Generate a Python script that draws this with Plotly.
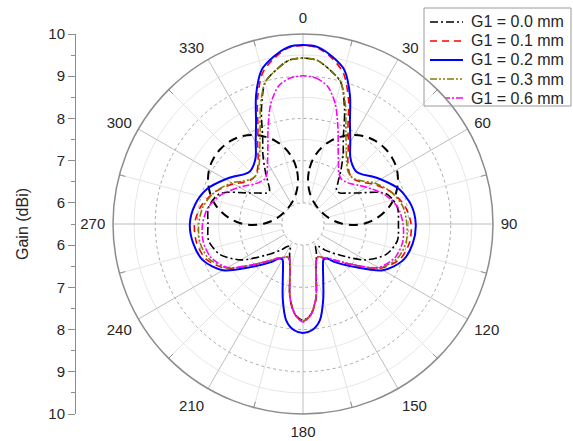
import plotly.graph_objects as go

# Azimuth angles (deg, clockwise from 0 at the top)
theta = [0, 5, 10, 15, 20, 25, 30, 35, 40, 45, 50, 55, 60, 70, 80, 90, 100, 110, 120, 130,
         140, 145, 150, 155, 160, 165, 170, 175, 180,
         185, 190, 195, 200, 205, 210, 215, 220, 230, 240, 250, 260, 270, 280, 290, 300,
         305, 310, 315, 320, 325, 330, 335, 340, 345, 350, 355, 360]

# Gain (dBi) for each slot width G1
gain_g00 = [9.43, 9.39, 9.20, 8.97, 8.38, 7.76, 7.40, 7.07, 6.79, 6.62, 6.64, 6.78, 6.97, 7.60, 7.77, 7.76, 7.77, 7.60, 7.20, 6.65,
            6.30, 6.15, 6.10, 6.25, 6.42, 6.70, 7.28, 7.65, 7.78,
            7.65, 7.28, 6.70, 6.42, 6.25, 6.10, 6.15, 6.30, 6.65, 7.20, 7.60, 7.77, 7.75, 7.77, 7.60, 6.97,
            6.78, 6.64, 6.62, 6.79, 7.07, 7.40, 7.76, 8.38, 8.97, 9.20, 9.39, 9.43]
gain_g01 = [9.73, 9.68, 9.48, 9.20, 8.65, 8.02, 7.65, 7.35, 7.18, 7.10, 7.12, 7.22, 7.40, 7.72, 7.95, 8.06, 8.06, 7.94, 7.60, 7.00,
            6.62, 6.50, 6.42, 6.36, 6.42, 6.70, 7.28, 7.66, 7.80,
            7.66, 7.28, 6.70, 6.42, 6.36, 6.42, 6.50, 6.62, 7.00, 7.60, 7.94, 8.06, 8.07, 7.95, 7.72, 7.40,
            7.22, 7.12, 7.10, 7.18, 7.35, 7.65, 8.02, 8.65, 9.20, 9.48, 9.68, 9.73]
gain_g02 = [9.74, 9.70, 9.52, 9.28, 8.75, 8.13, 7.74, 7.45, 7.32, 7.27, 7.33, 7.47, 7.62, 7.92, 8.10, 8.17, 8.14, 8.02, 7.69, 7.08,
            6.68, 6.50, 6.47, 6.62, 6.90, 7.35, 7.81, 8.02, 8.08,
            8.02, 7.81, 7.35, 6.90, 6.62, 6.47, 6.50, 6.68, 7.08, 7.69, 8.02, 8.14, 8.18, 8.10, 7.92, 7.62,
            7.47, 7.33, 7.27, 7.32, 7.45, 7.74, 8.13, 8.75, 9.28, 9.52, 9.70, 9.74]
gain_g03 = [9.43, 9.39, 9.20, 8.97, 8.45, 7.90, 7.55, 7.30, 7.15, 7.10, 7.14, 7.26, 7.45, 7.72, 7.90, 7.96, 7.98, 7.88, 7.58, 6.98,
            6.60, 6.48, 6.41, 6.35, 6.41, 6.69, 7.26, 7.64, 7.80,
            7.64, 7.26, 6.69, 6.41, 6.35, 6.41, 6.48, 6.60, 6.98, 7.58, 7.88, 7.98, 7.97, 7.90, 7.72, 7.45,
            7.26, 7.14, 7.10, 7.15, 7.30, 7.55, 7.90, 8.45, 8.97, 9.20, 9.39, 9.43]
gain_g06 = [9.01, 8.97, 8.82, 8.45, 7.92, 7.47, 7.18, 6.98, 6.90, 6.92, 6.98, 7.10, 7.24, 7.55, 7.78, 7.87, 7.90, 7.82, 7.56, 6.98,
            6.60, 6.48, 6.42, 6.36, 6.42, 6.70, 7.27, 7.66, 7.82,
            7.66, 7.27, 6.70, 6.42, 6.36, 6.42, 6.48, 6.60, 6.98, 7.56, 7.82, 7.90, 7.88, 7.78, 7.55, 7.24,
            7.10, 6.98, 6.92, 6.90, 6.98, 7.18, 7.47, 7.92, 8.45, 8.82, 8.97, 9.01]

# Two side loops of the long-dashed reference pattern (angle, gain)
loop_left_theta = [353.5, 353.3, 350.6, 346.5, 341.7, 336.3, 330.7, 324.8, 318.9, 312.8, 306.8, 300.8,
                   294.9, 289.1, 283.6, 278.5, 274.0, 270.5, 268.9, 270.8, 280.4, 303.8, 332.8, 348.6, 353.5]
loop_left_gain = [6.55, 6.83, 7.10, 7.35, 7.57, 7.76, 7.92, 8.04, 8.11, 8.14, 8.13, 8.08,
                  7.98, 7.84, 7.67, 7.46, 7.22, 6.96, 6.69, 6.41, 6.16, 6.02, 6.07, 6.28, 6.55]
loop_right_theta = [6.5, 6.7, 9.4, 13.5, 18.3, 23.7, 29.3, 35.2, 41.1, 47.2, 53.2, 59.2,
                    65.1, 70.9, 76.4, 81.5, 86.0, 89.5, 91.1, 89.2, 79.6, 56.2, 27.2, 11.4, 6.5]
loop_right_gain = [6.55, 6.83, 7.10, 7.35, 7.57, 7.76, 7.92, 8.04, 8.11, 8.14, 8.13, 8.08,
                   7.98, 7.84, 7.67, 7.46, 7.22, 6.96, 6.69, 6.41, 6.16, 6.02, 6.07, 6.28, 6.55]

series_names = ["G1 = 0.0 mm", "G1 = 0.1 mm", "G1 = 0.2 mm", "G1 = 0.3 mm", "G1 = 0.6 mm"]
series_gain = [gain_g00, gain_g01, gain_g02, gain_g03, gain_g06]
series_color = ["#000000", "#ff0000", "#0000ff", "#808000", "#ff00ff"]
series_dash = ["8px,3px,2px,3px", "7px,5px", "solid", "7px,2px,2px,2px,2px,2px", "7px,2px,2px,2px"]
series_width = [1.6, 1.6, 2.0, 1.6, 1.6]

# Axis settings
r_pole, r_inner, r_max = 5.5, 6, 10
major_spokes = list(range(0, 360, 30))
minor_spokes = list(range(15, 360, 30))
half_rings = [6.5, 7.5, 8.5, 9.5]
ring_theta = list(range(0, 361, 2))

# Left gain scale: mirrored readout around the pole
scale_pos = [-4.5, -3.5, -2.5, -1.5, -0.5, 0.5, 1.5, 2.5, 3.5, 4.5]
scale_text = ["10", "9", "8", "7", "6", "6", "7", "8", "9", "10"]
scale_minor = [-4, -3, -2, -1, 0, 1, 2, 3, 4]

FONT = "Liberation Sans, Arial, sans-serif"
TXT = "#262626"
W, H = 573, 441
cx, cy, R = 303, 224, 190

# key box (pixels): left, right, top, bottom; rows and sample segment in box pixels
key_box = (424, 571, 8, 106)
key_rows = [14, 33, 52, 71, 90]
key_sample_x = [6, 39]
key_text_x = 45

fig = go.Figure()

# light grid: half-dB rings and 15-degree spokes, plus main 30-degree spokes
for rr in half_rings:
    fig.add_trace(go.Scatterpolar(r=[rr] * len(ring_theta), theta=ring_theta, mode="lines",
                                  line=dict(color="#e6e6e6", width=1), hoverinfo="skip"))
for a in minor_spokes:
    fig.add_trace(go.Scatterpolar(r=[r_inner, r_max], theta=[a, a], mode="lines",
                                  line=dict(color="#e3e3e3", width=1), hoverinfo="skip"))
    fig.add_trace(go.Scatterpolar(r=[9.86, r_max], theta=[a, a], mode="lines",
                                  line=dict(color="#8c8c8c", width=1), hoverinfo="skip"))
for a in major_spokes:
    fig.add_trace(go.Scatterpolar(r=[r_inner, r_max], theta=[a, a], mode="lines",
                                  line=dict(color="#bdbdbd", width=1), hoverinfo="skip"))

# long-dashed side loops
for lt, lg in ((loop_left_theta, loop_left_gain), (loop_right_theta, loop_right_gain)):
    fig.add_trace(go.Scatterpolar(r=lg, theta=lt, mode="lines",
                                  line=dict(color="#000000", width=2, dash="9px,6px",
                                            shape="spline", smoothing=1),
                                  hoverinfo="skip"))

for name, g, color, dash, w in zip(series_names, series_gain, series_color, series_dash, series_width):
    fig.add_trace(go.Scatterpolar(r=g, theta=theta, mode="lines", name=name,
                                  line=dict(color=color, width=w, dash=dash,
                                            shape="spline", smoothing=0.8)))

# placeholder so the cartesian gain scale is drawn
fig.add_trace(go.Scatter(x=[], y=[], hoverinfo="skip"))

# key: sample segments drawn on a small inset axis
for i, (name, color, dash, w) in enumerate(zip(series_names, series_color, series_dash, series_width)):
    fig.add_trace(go.Scatter(x=key_sample_x, y=[key_rows[i]] * 2, mode="lines",
                             line=dict(color=color, width=w, dash=dash),
                             xaxis="x2", yaxis="y2", hoverinfo="skip"))
    fig.add_annotation(x=key_text_x, y=key_rows[i], xref="x2", yref="y2", text=name,
                       showarrow=False, xanchor="left", yanchor="middle",
                       font=dict(size=16, color=TXT))

fig.add_shape(type="rect", xref="x2 domain", yref="y2 domain", x0=0, x1=1, y0=0, y1=1,
              line=dict(color="#9a9a9a", width=1), fillcolor="rgba(0,0,0,0)")

dom_x = [(cx - R) / W, (cx + R) / W]
dom_y = [1 - (cy + R) / H, 1 - (cy - R) / H]
kl, kr, kt, kb = key_box

fig.update_layout(
    width=W, height=H,
    margin=dict(l=0, r=0, t=0, b=0, autoexpand=False),
    showlegend=False,
    paper_bgcolor="white", plot_bgcolor="rgba(0,0,0,0)",
    font=dict(family=FONT, size=15, color=TXT),
    polar=dict(
        domain=dict(x=dom_x, y=dom_y),
        bgcolor="white",
        radialaxis=dict(range=[r_pole, r_max], tickvals=[6, 7, 8, 9], showticklabels=False,
                        ticks="", showline=False, gridcolor="#a8a8a8", griddash="dot",
                        gridwidth=1),
        angularaxis=dict(rotation=90, direction="clockwise", tickmode="array",
                         tickvals=major_spokes, ticktext=[str(a) for a in major_spokes],
                         ticks="outside", ticklen=4, tickcolor="rgba(0,0,0,0)",
                         showline=True, linecolor="#8c8c8c", linewidth=1.5,
                         showgrid=False,
                         tickfont=dict(size=15, color=TXT)),
    ),
    xaxis=dict(domain=[0, 0.05], visible=False, range=[0, 1]),
    yaxis=dict(domain=dom_y, anchor="free", position=75 / W, range=[-4.5, 4.5],
               automargin=False,
               tickmode="array", tickvals=scale_pos, ticktext=scale_text,
               ticks="outside", ticklen=7, tickcolor="#8c8c8c", showline=True,
               linecolor="#8c8c8c", linewidth=1, showgrid=False, zeroline=False,
               minor=dict(tickvals=scale_minor, ticks="outside", ticklen=4,
                          tickcolor="#8c8c8c", showgrid=False),
               tickfont=dict(size=15, color=TXT),
               title=dict(text="Gain (dBi)", font=dict(size=16, color=TXT), standoff=14)),
    xaxis2=dict(domain=[kl / W, kr / W], range=[0, kr - kl], visible=False, anchor="y2"),
    yaxis2=dict(domain=[1 - kb / H, 1 - kt / H], range=[kb - kt, 0], visible=False, anchor="x2"),
)

fig.write_html("out.html")
